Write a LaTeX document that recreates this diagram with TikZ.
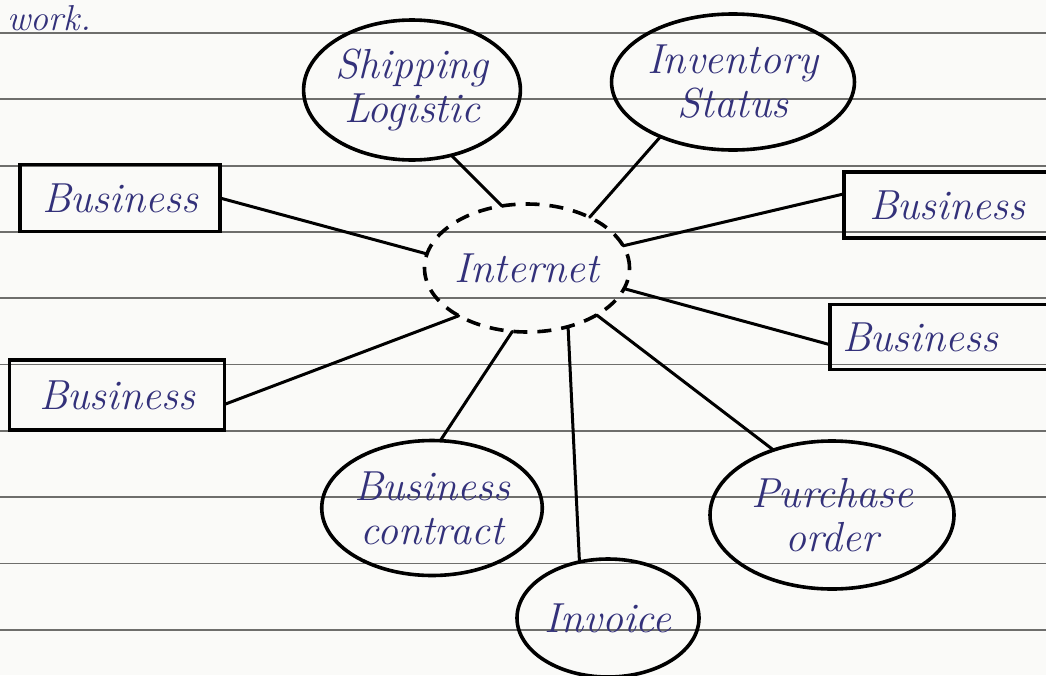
\documentclass[tikz,border=0pt]{standalone}
\usepackage{fontspec}
\usetikzlibrary{shapes.geometric}
\definecolor{ink}{HTML}{33317A}
\definecolor{paper}{HTML}{FAFAF8}
\definecolor{rule}{HTML}{6E6E6C}
\tikzset{
  hand/.style={font=\fontsize{42}{44}\selectfont\itshape, text=ink, align=center},
  bubble/.style={hand, ellipse, draw=black, line width=3.6pt, inner sep=0pt, outer sep=0pt},
  busbox/.style={hand, rectangle, draw=black, line width=3.6pt, inner sep=0pt, outer sep=0pt},
  cloudnet/.style={bubble, dash pattern=on 14pt off 10pt},
  link/.style={draw=black, line width=3pt, line cap=round},
}
\begin{document}
\begin{tikzpicture}[x=1pt, y=-1pt]
  % sheet of ruled paper
  \fill[paper] (0,0) rectangle (1046,675);
  \useasboundingbox (0,0) rectangle (1046,675);
  \foreach \k in {0,...,9}
    \draw[rule, line width=1.8pt] (0,{33+66.3*\k}) -- (1046,{33+66.3*\k});

  % end of the preceding sentence
  \node[hand, font=\fontsize{36}{40}\selectfont\itshape, anchor=base west] (prev) at (4,30) {work.};

  % hub
  \node[cloudnet, minimum width=205pt, minimum height=128pt] (net) at (527,268) {Internet};

  % bubbles around the hub
  \node[bubble, minimum width=184pt, minimum height=140pt] (ship) at (412,90) {Shipping\\Logistic};
  \node[bubble, minimum width=236pt, minimum height=136pt] (inv) at (733,82) {Inventory\\Status};
  \node[bubble, minimum width=205pt, minimum height=135pt] (contract) at (432,508) {Business\\contract};
  \node[bubble, minimum width=182pt, minimum height=118pt] (invoice) at (608,618) {Invoice};
  \node[bubble, minimum width=244pt, minimum height=148pt] (po) at (832,515) {Purchase\\order};

  % business partners
  \node[busbox, minimum width=200pt, minimum height=67pt] (b1) at (120,198) {Business};
  \node[busbox, minimum width=212pt, minimum height=66pt, text width=190pt, align=left] (b2) at (950,205) {\hspace*{14pt}Business};
  \node[busbox, minimum width=220pt, minimum height=65pt, text width=200pt, align=left] (b3) at (940,337) {\hspace*{2pt}Business};
  \node[busbox, minimum width=215pt, minimum height=70pt] (b4) at (117,395) {Business};

  % connectors to the hub
  \draw[link] (ship.-59.5) -- (net.112.6);
  \draw[link] (inv.217.6) -- (net.39.2);
  \draw[link] (b1.east) -- (net.172.2);
  \draw[link] (b2.174.7) -- (net.13.2);
  \draw[link] (b3.184.2) -- (net.-12.4);
  \draw[link] (b4.-5.3) -- (net.-145.2);
  \draw[link] (contract.83) -- (net.-103.6);
  \draw[link] (invoice.117.3) -- (net.-55.3);
  \draw[link] (po.132.7) -- (net.-34.4);
\end{tikzpicture}
\end{document}
